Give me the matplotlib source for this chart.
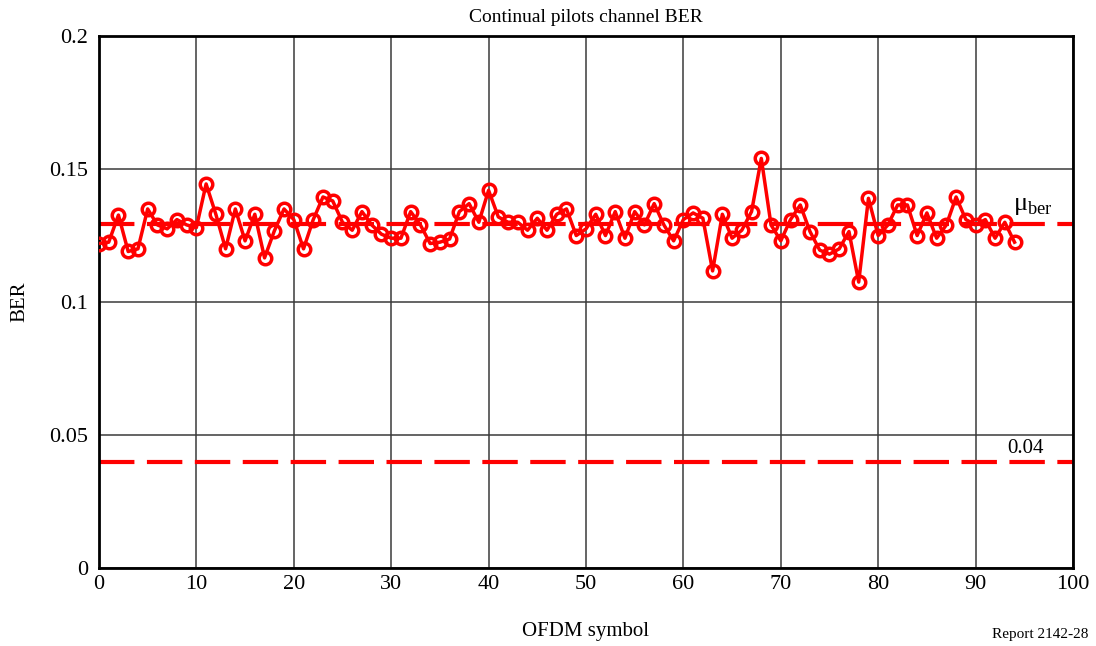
import matplotlib
matplotlib.use("Agg")
import matplotlib.pyplot as plt

symbols = list(range(95))
ber = [0.122, 0.1225, 0.1327, 0.119, 0.120, 0.135, 0.129, 0.1275, 0.131, 0.129,
       0.128, 0.1444, 0.133, 0.120, 0.135, 0.123, 0.133, 0.1166, 0.1267, 0.135,
       0.131, 0.120, 0.131, 0.1395, 0.138, 0.130, 0.127, 0.134, 0.129, 0.1255,
       0.124, 0.124, 0.134, 0.129, 0.122, 0.1225, 0.1237, 0.134, 0.137, 0.130,
       0.142, 0.132, 0.130, 0.130, 0.127, 0.1315, 0.127, 0.133, 0.135, 0.125,
       0.1275, 0.133, 0.125, 0.134, 0.124, 0.134, 0.129, 0.137, 0.129, 0.123,
       0.131, 0.1335, 0.1315, 0.1117, 0.133, 0.124, 0.127, 0.134, 0.154, 0.129,
       0.123, 0.131, 0.1365, 0.1265, 0.1195, 0.118, 0.120, 0.1265, 0.1075, 0.139,
       0.125, 0.129, 0.1365, 0.1365, 0.125, 0.1335, 0.124, 0.129, 0.1395, 0.131,
       0.129, 0.131, 0.124, 0.130, 0.1225]
mu_ber = 0.1295
threshold = 0.04

plt.rcParams['font.family'] = ['Liberation Serif', 'DejaVu Serif']
plt.rcParams['mathtext.fontset'] = 'custom'
plt.rcParams['mathtext.rm'] = 'Liberation Serif'

fig = plt.figure(figsize=(10.96, 6.46), dpi=100)
ax = fig.add_axes([0.0903, 0.1207, 0.8887, 0.8235])

ax.axhline(mu_ber, color='red', lw=3, dashes=(8.5, 3), zorder=2)
ax.axhline(threshold, color='red', lw=3, dashes=(8.5, 3), zorder=2)
ax.plot(symbols, ber, color='red', lw=2.5, marker='o', ms=9,
        mfc='none', mec='red', mew=2.5, zorder=3)

ax.text(93.8, mu_ber + 0.0025, r'$\mathrm{μ}_{\mathrm{ber}}$', fontsize=19,
        va='bottom', ha='left')
ax.text(93.3, threshold + 0.0015, '0.04', fontsize=15, va='bottom', ha='left')

ax.set_xlim(0, 100)
ax.set_ylim(0, 0.2)
ax.set_xticks(range(0, 101, 10))
ax.set_yticks([0, 0.05, 0.1, 0.15, 0.2])
ax.set_yticklabels(['0', '0.05', '0.1', '0.15', '0.2'])
ax.grid(True, color='#3a3a3a', lw=1.1)
ax.set_axisbelow(True)
ax.tick_params(length=0, labelsize=16)
ax.tick_params(axis='x', pad=5)
ax.tick_params(axis='y', pad=8)
for s in ax.spines.values():
    s.set_linewidth(2)
    s.set_color('black')

ax.set_title('Continual pilots channel BER', fontsize=14, pad=10)
ax.set_xlabel('OFDM symbol', fontsize=15, labelpad=20)
ax.set_ylabel('BER', fontsize=15, labelpad=14)
fig.text(0.993, 0.008, 'Report 2142-28', fontsize=11, ha='right', va='bottom')

fig.savefig('out.png', dpi=100)
